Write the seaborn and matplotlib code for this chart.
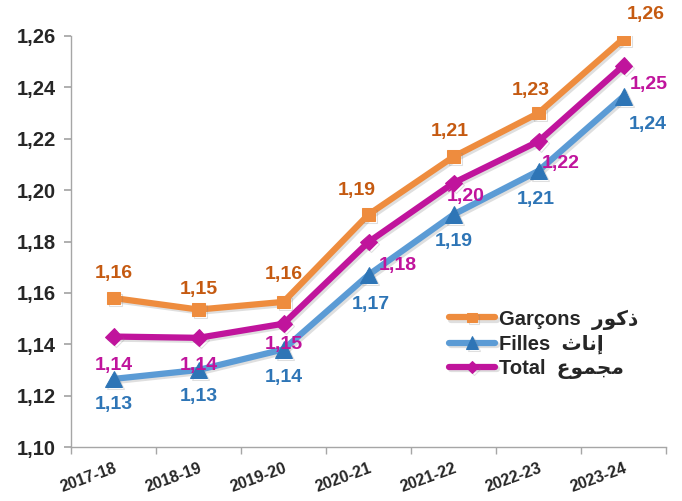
import numpy as np
import pandas as pd
import seaborn as sns
import matplotlib.pyplot as plt
import matplotlib.patheffects as pe
from matplotlib.ticker import FuncFormatter

sns.set_theme(style="white")
plt.rcParams['font.family'] = ['Liberation Sans', 'DejaVu Sans']
plt.rcParams['font.weight'] = 'bold'

years = ['2017-18', '2018-19', '2019-20', '2020-21', '2021-22', '2022-23', '2023-24']
garcons = [1.158, 1.1535, 1.1565, 1.1905, 1.213, 1.230, 1.259]
filles = [1.1265, 1.130, 1.138, 1.167, 1.1905, 1.2075, 1.2365]
total = [1.143, 1.1425, 1.148, 1.1798, 1.2028, 1.219, 1.2485]

# arabic words written in presentation forms, visual order (matplotlib does no shaping)
ar_garcons = '\uFEAD\uFEEE\uFEDB\uFEAB'          # ذكور
ar_filles = '\uFE99\uFE8E\uFEE7\uFE87'           # إناث
ar_total = '\uFEC9\uFEEE\uFEE4\uFEA0\uFEE3'      # مجموع

df = pd.DataFrame({
    'x': list(range(len(years))) * 3,
    'val': garcons + filles + total,
    'serie': ['g'] * 7 + ['f'] * 7 + ['t'] * 7,
})

fig = plt.figure(figsize=(6.82, 5.01), dpi=100)
ax = fig.add_axes([71 / 682, 1 - 447 / 501, 595 / 682, 411 / 501])

shadow = [pe.SimpleLineShadow(offset=(1.5, -1.5), alpha=0.25, shadow_color='gray'), pe.Normal()]

series = [
    ('g', 'Garçons  ' + ar_garcons, '#EE8C3E', '#EE8C3E', 's', 9, '#C55A11'),
    ('f', 'Filles  ' + ar_filles, '#5B9BD5', '#2E75B6', '^', 12, '#2E75B6'),
    ('t', 'Total  ' + ar_total, '#C0149C', '#C0149C', 'D', 8.5, '#C0149C'),
]
handles = []
for key, lab, lc, mc, mk, ms, tc in series:
    sub = df[df['serie'] == key]
    sns.lineplot(data=sub, x='x', y='val', ax=ax, color=lc, lw=4.5, marker=mk,
                 markersize=ms, markerfacecolor=mc, markeredgecolor=mc, label=lab,
                 path_effects=shadow, legend=False)
    handles.append(ax.lines[-1])

# label offsets in pixels
off_g = [(0, 25), (0, 20), (0, 27), (-12, 24), (-4, 25), (-8, 23), (22, 24)]
off_f = [(0, -26), (0, -27), (0, -28), (2, -30), (0, -27), (-3, -29), (24, -28)]
off_t = [(0, -29), (0, -28), (0, -21), (29, -23), (12, -14), (22, -22), (25, -19)]

for vals, offs, col in [(garcons, off_g, '#C55A11'), (filles, off_f, '#2E75B6'), (total, off_t, '#C0149C')]:
    for i, v in enumerate(vals):
        txt = f'{v:.2f}'.replace('.', ',')
        ax.annotate(txt, (i, v), xytext=offs[i], textcoords='offset pixels',
                    ha='center', va='center', fontsize=14, fontweight='bold', color=col)

ax.set_xlim(-0.5, 6.5)
ax.set_ylim(1.10, 1.26)
ax.set_yticks(np.arange(1.10, 1.2601, 0.02))
ax.yaxis.set_major_formatter(FuncFormatter(lambda v, p: f'{v:.2f}'.replace('.', ',')))
ax.set_xticks(range(len(years)))
ax.set_xticklabels(years, rotation=20, ha='right', rotation_mode='anchor', fontsize=11.5, fontweight='bold')
ax.set_xticks(np.arange(-0.5, 7, 1), minor=True)
ax.tick_params(axis='x', which='major', length=0, pad=10)
ax.tick_params(axis='x', which='minor', length=5, color='#A6A6A6', direction='out', bottom=True)
ax.tick_params(axis='y', length=5, color='#A6A6A6', direction='out', left=True, labelsize=14.5, pad=6)
for t in ax.get_yticklabels():
    t.set_fontweight('bold')
ax.set_xlabel('')
ax.set_ylabel('')
for s in ['top', 'right']:
    ax.spines[s].set_visible(False)
for s in ['left', 'bottom']:
    ax.spines[s].set_color('#A6A6A6')
    ax.spines[s].set_linewidth(1)

leg = ax.legend(handles=handles, labels=[s[1] for s in series], loc='upper left',
                bbox_to_anchor=(0.635, 0.335), frameon=False,
                handlelength=2.3, handletextpad=0.2, labelspacing=0.25, markerscale=0.75,
                borderaxespad=0, borderpad=0, prop={'weight': 'bold', 'size': 14.5})

fig.savefig('out.png', dpi=100)
